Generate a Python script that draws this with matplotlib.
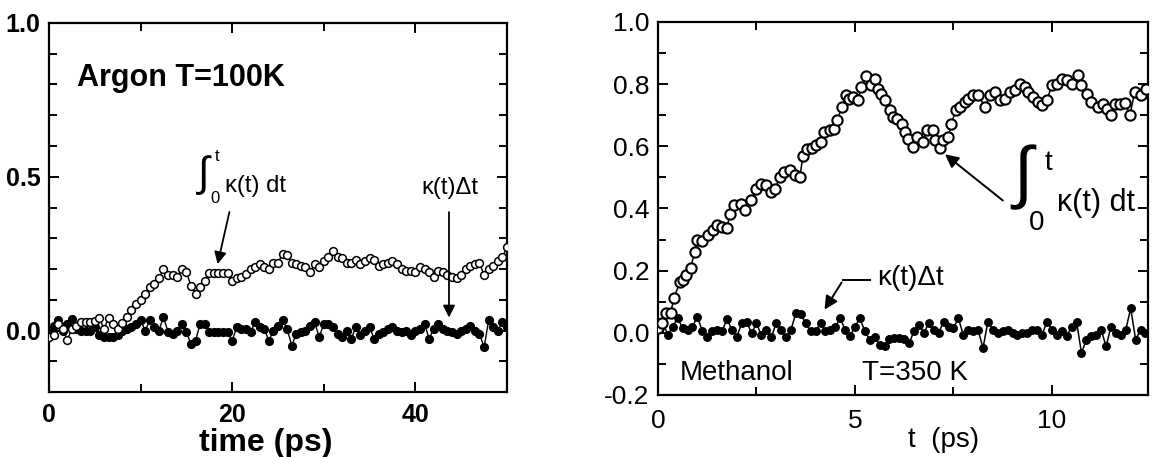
import numpy as np
import matplotlib
matplotlib.use("Agg")
import matplotlib.pyplot as plt
from matplotlib.ticker import MultipleLocator, FixedLocator

plt.rcParams['font.family'] = ['Liberation Sans', 'DejaVu Sans']
plt.rcParams['axes.unicode_minus'] = False

# ---------------- data: left panel (Argon, T=100K) ----------------
argon_t = np.arange(0, 50.01, 0.5)
argon_integral = [
    -0.02, -0.015, 0.02, 0.005, -0.03, 0.005, 0.016, 0.027, 0.027, 0.027,
    0.03, 0.04, 0.005, 0.04, 0.02, 0.005, 0.025, 0.045, 0.066, 0.085,
    0.1, 0.12, 0.14, 0.15, 0.17, 0.2, 0.18, 0.18, 0.175, 0.2,
    0.19, 0.145, 0.12, 0.14, 0.16, 0.186, 0.186, 0.186, 0.186, 0.186,
    0.16, 0.17, 0.175, 0.185, 0.2, 0.205, 0.215, 0.205, 0.2, 0.22,
    0.22, 0.25, 0.245, 0.22, 0.215, 0.21, 0.205, 0.19, 0.215, 0.205,
    0.225, 0.24, 0.258, 0.24, 0.235, 0.22, 0.22, 0.23, 0.215, 0.225,
    0.235, 0.23, 0.21, 0.215, 0.22, 0.225, 0.215, 0.2, 0.195, 0.195,
    0.19, 0.205, 0.2, 0.19, 0.175, 0.195, 0.19, 0.18, 0.175, 0.17,
    0.18, 0.2, 0.21, 0.215, 0.22, 0.18, 0.2, 0.21, 0.225, 0.24, 0.27]
argon_kappa = [
    0.0, 0.015, 0.033, 0.0, 0.02, 0.038, 0.005, 0.0, 0.0, 0.0,
    0.011, -0.015, -0.022, -0.022, -0.02, -0.016, 0.0, 0.005, 0.011, 0.022,
    0.033, 0.0, 0.033, 0.011, 0.0, 0.044, -0.005, -0.011, 0.0, 0.022,
    -0.005, -0.044, -0.033, 0.022, 0.022, -0.005, -0.005, -0.005, -0.005, -0.005,
    -0.033, 0.011, 0.005, 0.005, -0.005, 0.027, 0.011, 0.005, -0.033, 0.0,
    0.015, 0.033, 0.005, -0.049, -0.011, -0.005, 0.0, 0.015, 0.027, -0.022,
    0.022, 0.02, 0.011, -0.01, -0.022, 0.0, -0.027, 0.011, -0.016, 0.0,
    0.011, -0.027, -0.01, -0.005, 0.005, 0.011, 0.0, -0.005, 0.0, -0.016,
    0.0, 0.005, 0.022, -0.027, 0.005, 0.022, 0.005, 0.0, -0.005, -0.011,
    0.0, 0.005, 0.016, 0.0, -0.01, -0.055, 0.033, 0.011, 0.0, 0.027, 0.011]

# ---------------- data: right panel (Methanol, T=350 K) ----------------
meth_t_open = [
    0.0, 0.10, 0.21, 0.32, 0.41, 0.55, 0.63, 0.72, 0.83, 0.93,
    1.0, 1.12, 1.27, 1.40, 1.51, 1.62, 1.75, 1.82, 1.93, 2.10,
    2.20, 2.37, 2.50, 2.62, 2.75, 2.88, 2.98, 3.09, 3.21, 3.34,
    3.47, 3.60, 3.68, 3.79, 3.91, 4.02, 4.13, 4.21, 4.36, 4.47,
    4.55, 4.67, 4.78, 4.86, 4.95, 5.08, 5.16, 5.29, 5.40, 5.50,
    5.58, 5.67, 5.77, 5.89, 5.97, 6.06, 6.19, 6.27, 6.35, 6.48,
    6.57, 6.73, 6.82, 6.99, 7.03, 7.16, 7.24, 7.37, 7.45, 7.56,
    7.67, 7.79, 7.88, 8.0, 8.13, 8.30, 8.43, 8.55, 8.68, 8.81,
    8.93, 9.06, 9.19, 9.32, 9.40, 9.53, 9.65, 9.74, 9.87, 10.0,
    10.12, 10.25, 10.37, 10.50, 10.67, 10.75, 10.88, 11.0, 11.18, 11.30,
    11.39, 11.51, 11.60, 11.72, 11.85, 11.98, 12.10, 12.25, 12.40]
meth_integral = [
    0.015, 0.031, 0.063, 0.065, 0.113, 0.162, 0.17, 0.186, 0.208, 0.261,
    0.299, 0.295, 0.315, 0.331, 0.347, 0.341, 0.336, 0.382, 0.411, 0.416,
    0.395, 0.427, 0.464, 0.48, 0.475, 0.454, 0.464, 0.502, 0.518, 0.523,
    0.507, 0.502, 0.568, 0.59, 0.596, 0.604, 0.614, 0.646, 0.652, 0.657,
    0.684, 0.727, 0.764, 0.753, 0.759, 0.748, 0.791, 0.825, 0.796, 0.818,
    0.785, 0.769, 0.748, 0.716, 0.694, 0.689, 0.673, 0.646, 0.625, 0.598,
    0.63, 0.614, 0.652, 0.652, 0.62, 0.596, 0.62, 0.63, 0.673, 0.718,
    0.727, 0.743, 0.753, 0.764, 0.764, 0.727, 0.764, 0.775, 0.748, 0.753,
    0.775, 0.78, 0.8, 0.79, 0.775, 0.759, 0.743, 0.732, 0.748, 0.796,
    0.8, 0.818, 0.812, 0.8, 0.828, 0.796, 0.769, 0.743, 0.727, 0.737,
    0.721, 0.7, 0.737, 0.737, 0.74, 0.70, 0.775, 0.765, 0.785]
meth_t_fill = np.arange(100) * 0.125
meth_kappa = [
    0.015, 0.03, -0.006, 0.02, 0.047, 0.015, 0.01, 0.02, 0.052, 0.005,
    -0.012, 0.005, 0.008, 0.005, 0.044, 0.01, -0.012, 0.03, 0.036, -0.001,
    0.03, -0.008, 0.01, -0.015, 0.031, 0.01, -0.015, 0.01, 0.063, 0.06,
    0.03, 0.005, 0.005, 0.031, 0.005, 0.01, 0.02, 0.047, 0.01, -0.01,
    0.02, 0.047, 0.005, -0.022, -0.015, -0.038, -0.044, -0.02, -0.017, -0.017,
    -0.02, -0.033, 0.005, 0.026, 0.0, 0.031, 0.01, 0.0, 0.036, 0.02,
    0.015, 0.047, -0.006, 0.01, 0.005, 0.01, -0.049, 0.036, 0.01, 0.0,
    0.005, 0.01, 0.0, -0.006, 0.0, 0.0, 0.01, 0.01, -0.006, 0.036,
    0.01, -0.006, 0.005, -0.011, 0.02, 0.036, -0.065, -0.022, -0.011, -0.006,
    0.01, -0.044, 0.02, 0.0, -0.006, 0.01, 0.079, -0.022, 0.01, 0.0]

# ---------------- figure ----------------
fig = plt.figure(figsize=(11.53, 4.57), dpi=100)
axL = fig.add_axes([0.0425, 0.1422, 0.3972, 0.8075])
axR = fig.add_axes([0.5707, 0.1357, 0.4250, 0.8162])

for ax in (axL, axR):
    for s in ax.spines.values():
        s.set_linewidth(1.6)
    ax.tick_params(which='both', direction='in', top=True, right=True,
                   width=1.4, colors='black')
    ax.tick_params(which='major', length=7)
    ax.tick_params(which='minor', length=6)

# ---- left panel ----
axL.plot(argon_t, argon_kappa, '-', color='black', lw=1.0, marker='o',
         markersize=5.6, markerfacecolor='black', markeredgecolor='black', zorder=2)
axL.plot(argon_t, argon_integral, '-', color='black', lw=1.0, marker='o',
         markersize=5.6, markerfacecolor='white', markeredgecolor='black',
         markeredgewidth=1.1, zorder=3)
axL.set_xlim(0, 50)
axL.set_ylim(-0.2, 1.0)
axL.xaxis.set_major_locator(FixedLocator([0, 20, 40]))
axL.xaxis.set_minor_locator(MultipleLocator(10))
axL.yaxis.set_major_locator(FixedLocator([0.0, 0.5, 1.0]))
axL.yaxis.set_minor_locator(MultipleLocator(0.1))
axL.set_yticklabels(['0.0', '0.5', '1.0'])
axL.set_xticklabels(['0', '20', '40'])
for lab in axL.get_xticklabels() + axL.get_yticklabels():
    lab.set_fontweight('bold')
    lab.set_fontsize(18)
axL.tick_params(axis='y', pad=6)
axL.tick_params(axis='x', pad=8)

axL.text(3.05, 0.795, 'Argon T=100K', fontsize=22, fontweight='bold', va='baseline', ha='left')
axL.text(16.9, 0.505, '∫', fontsize=30, ha='center', va='center')
axL.text(18.35, 0.565, 't', fontsize=12, ha='center', va='center')
axL.text(18.1, 0.428, '0', fontsize=12, ha='center', va='center')
axL.text(19.2, 0.47, 'κ(t) dt', fontsize=17, ha='left', va='center')
axL.annotate('', xy=(18.34, 0.207), xytext=(19.76, 0.394),
             arrowprops=dict(arrowstyle='-|>', color='black', lw=1.3, mutation_scale=18))
axL.text(40.7, 0.463, 'κ(t)Δt', fontsize=17, ha='left', va='center')
axL.annotate('', xy=(43.67, 0.033), xytext=(43.67, 0.394),
             arrowprops=dict(arrowstyle='-|>', color='black', lw=1.3, mutation_scale=18))
fig.text(0.2307, 0.031, 'time (ps)', fontsize=23, fontweight='bold', ha='center', va='center')

# ---- right panel ----
axR.plot(meth_t_fill, meth_kappa, '-', color='black', lw=1.1, marker='o',
         markersize=5.4, markerfacecolor='black', markeredgecolor='black', zorder=2)
axR.plot(meth_t_open, meth_integral, '-', color='black', lw=1.1, marker='o',
         markersize=7.4, markerfacecolor='white', markeredgecolor='black',
         markeredgewidth=1.5, zorder=3)
axR.set_xlim(0, 12.44)
axR.set_ylim(-0.2, 1.0)
axR.xaxis.set_major_locator(FixedLocator([0, 5, 10]))
axR.xaxis.set_minor_locator(MultipleLocator(2.5))
axR.yaxis.set_major_locator(FixedLocator([-0.2, 0.0, 0.2, 0.4, 0.6, 0.8, 1.0]))
axR.yaxis.set_minor_locator(MultipleLocator(0.1))
axR.set_yticklabels(['-0.2', '0.0', '0.2', '0.4', '0.6', '0.8', '1.0'])
axR.set_xticklabels(['0', '5', '10'])
for lab in axR.get_xticklabels() + axR.get_yticklabels():
    lab.set_fontsize(19)
axR.tick_params(axis='y', pad=6)
axR.tick_params(axis='x', pad=10)

axR.text(9.26, 0.50, '∫', fontsize=50, ha='center', va='center')
axR.text(9.9, 0.546, 't', fontsize=20, ha='center', va='center')
axR.text(9.6, 0.353, '0', fontsize=20, ha='center', va='center')
axR.text(10.13, 0.417, 'κ(t) dt', fontsize=22, ha='left', va='center')
axR.annotate('', xy=(7.23, 0.58), xytext=(8.81, 0.42),
             arrowprops=dict(arrowstyle='-|>', color='black', lw=1.4, mutation_scale=20))
axR.text(5.56, 0.177, 'κ(t)Δt', fontsize=20, ha='left', va='center')
axR.plot([5.38, 4.70], [0.17, 0.17], color='black', lw=1.4)
axR.annotate('', xy=(4.19, 0.067), xytext=(4.70, 0.17),
             arrowprops=dict(arrowstyle='-|>', color='black', lw=1.4, mutation_scale=20))
axR.text(0.56, -0.151, 'Methanol', fontsize=20, ha='left', va='baseline')
axR.text(5.18, -0.151, 'T=350 K', fontsize=20, ha='left', va='baseline')
fig.text(0.818, 0.037, 't  (ps)', fontsize=20, ha='center', va='center')

fig.savefig('out.png', dpi=100)
